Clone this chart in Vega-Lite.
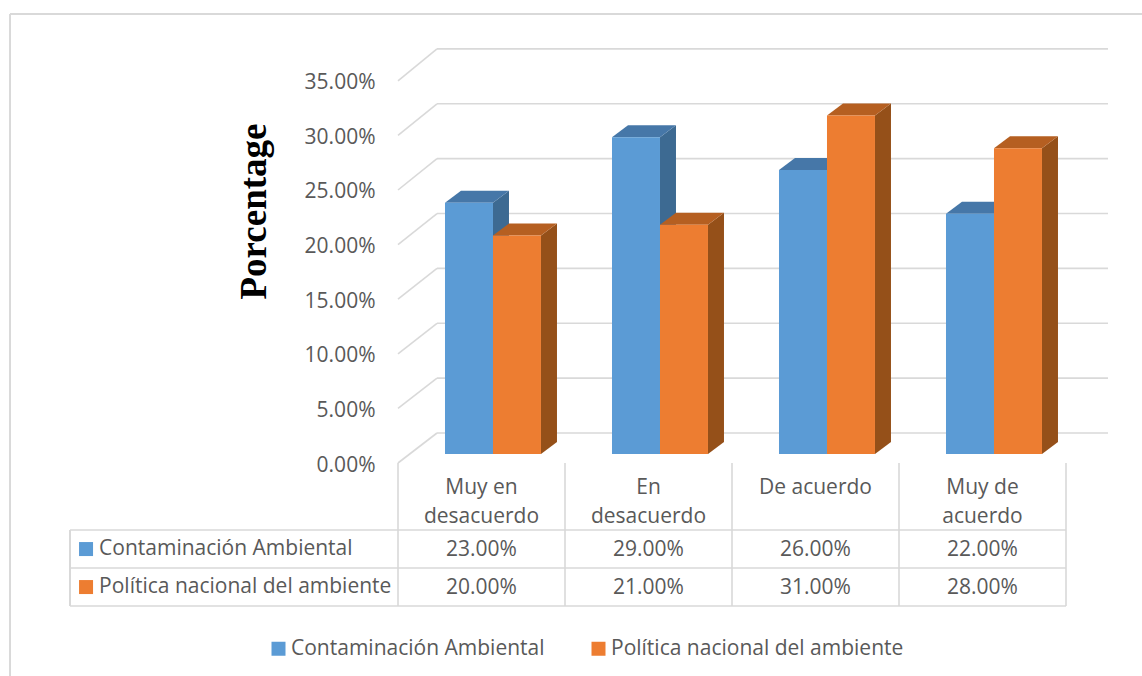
{
"$schema":"https://vega.github.io/schema/vega-lite/v6.json",
"autosize":{"type":"none"},
"padding":{"left":398,"top":49,"right":34,"bottom":213},
"width":710,"height":414,"background":"white",
"config":{"view":{"stroke":null},"font":"Open Sans"},
"datasets":{"ticks":[{"v":0},{"v":0.05},{"v":0.1},{"v":0.15},{"v":0.2},{"v":0.25},{"v":0.3},{"v":0.35}],
"cols":[{"i":0},{"i":1},{"i":2},{"i":3},{"i":4}],
"rows":[{"r":0},{"r":1},{"r":2}]},
"data":{"values":[
{"category":"Muy en\ndesacuerdo","series":"Contaminación Ambiental","value":0.23},
{"category":"En\ndesacuerdo","series":"Contaminación Ambiental","value":0.29},
{"category":"De acuerdo","series":"Contaminación Ambiental","value":0.26},
{"category":"Muy de\nacuerdo","series":"Contaminación Ambiental","value":0.22},
{"category":"Muy en\ndesacuerdo","series":"Política nacional del ambiente","value":0.20},
{"category":"En\ndesacuerdo","series":"Política nacional del ambiente","value":0.21},
{"category":"De acuerdo","series":"Política nacional del ambiente","value":0.31},
{"category":"Muy de\nacuerdo","series":"Política nacional del ambiente","value":0.28}
]},
"transform":[
{"calculate":"indexof(['Muy en\\ndesacuerdo','En\\ndesacuerdo','De acuerdo','Muy de\\nacuerdo'],datum.category)","as":"idx"},
{"calculate":"datum.series==='Contaminación Ambiental'?0:1","as":"si"},
{"calculate":"datum.idx+0.2814+datum.si*0.2874","as":"a"},
{"calculate":"datum.a+0.2874","as":"b"},
{"calculate":"datum.value+0.00824","as":"t"}
],
"layer":[
{"data":{"name":"ticks"},"transform":[{"calculate":"datum.v*1.005+0.02747","as":"back"}],
 "mark":{"type":"rule","color":"#D9D9D9","strokeWidth":1.6},
 "encoding":{
  "x":{"datum":0.2335,"type":"quantitative","scale":{"domain":[0,4.2515],"nice":false,"zero":false},"axis":null},
  "x2":{"datum":4.2515},
  "y":{"field":"back","type":"quantitative","scale":{"domain":[0,0.37912],"nice":false,"zero":false},
   "axis":{"values":[0,0.05,0.1,0.15,0.2,0.25,0.3,0.35],"format":".2%","grid":false,"domain":false,"ticks":false,"labelPadding":23,"labelFontSize":21,"labelOffset":2,"labelColor":"#595959","labelFont":"Open Sans",
   "title":"Porcentage","titleFont":"Liberation Serif","titleFontSize":37,"titleFontWeight":"bold","titleColor":"#000000","titleAngle":-90,"titleX":-133,"titleY":162,"titleAlign":"center","titleBaseline":"alphabetic"}}
 }},
{"data":{"name":"ticks"},"transform":[{"calculate":"datum.v*1.005+0.02747","as":"back"}],
 "mark":{"type":"rule","color":"#D9D9D9","strokeWidth":1.6},
 "encoding":{"x":{"datum":0,"type":"quantitative"},"x2":{"datum":0.2335},
  "y":{"field":"v","type":"quantitative"},"y2":{"field":"back"}}},
{"data":{"name":"cols"},"mark":{"type":"rule","color":"#D9D9D9","strokeWidth":1.6},
 "encoding":{"x":{"field":"i","type":"quantitative"},"y":{"datum":0,"type":"quantitative"},"y2":{"datum":-0.131}}},
{"data":{"name":"rows"},"transform":[{"calculate":"-0.0614-datum.r*0.0348","as":"ry"}],"mark":{"type":"rule","color":"#D9D9D9","strokeWidth":1.6},
 "encoding":{"x":{"datum":-1.964,"type":"quantitative"},"x2":{"datum":4},"y":{"field":"ry","type":"quantitative"}}},
{"mark":{"type":"rule","color":"#D9D9D9","strokeWidth":1.6},
 "encoding":{"x":{"datum":-1.964,"type":"quantitative"},"y":{"datum":-0.0614,"type":"quantitative"},"y2":{"datum":-0.131}}},
{"mark":{"type":"rule","color":"#D9D9D9","strokeWidth":1.6},
 "encoding":{"x":{"datum":-2.323,"type":"quantitative"},"x2":{"datum":4.46},"y":{"datum":0.4112,"type":"quantitative"}}},
{"mark":{"type":"rule","color":"#D9D9D9","strokeWidth":1.6},
 "encoding":{"x":{"datum":-2.323,"type":"quantitative"},"y":{"datum":0.4112,"type":"quantitative"},"y2":{"datum":-0.2}}},
{"transform":[{"calculate":"[0,1]","as":"pt"},{"flatten":["pt"]},
  {"calculate":"datum.b+datum.pt*0.0958","as":"px"},{"calculate":"datum.t+datum.pt*0.011","as":"py"},{"calculate":"0.00824+datum.pt*0.011","as":"py2"}],
 "mark":{"type":"area","opacity":1},
 "encoding":{"x":{"field":"px","type":"quantitative"},"y":{"field":"py","type":"quantitative"},"y2":{"field":"py2"},"detail":{"field":"category"},
  "color":{"field":"series","type":"nominal","scale":{"domain":["Contaminación Ambiental","Política nacional del ambiente"],"range":["#3D6A92","#955019"]},"legend":null}}},
{"transform":[{"calculate":"[0,1,2,3]","as":"pt"},{"flatten":["pt"]},
  {"calculate":"datum.pt==0?datum.a:datum.pt==1?datum.a+0.0958:datum.pt==2?datum.b:datum.b+0.0958","as":"px"},
  {"calculate":"datum.pt==0?datum.t:datum.t+0.011","as":"py"},
  {"calculate":"datum.pt==3?datum.t+0.011:datum.t","as":"py2"}],
 "mark":{"type":"area","opacity":1},
 "encoding":{"x":{"field":"px","type":"quantitative"},"y":{"field":"py","type":"quantitative"},"y2":{"field":"py2"},"detail":{"field":"category"},
  "color":{"field":"series","type":"nominal","scale":{"domain":["Contaminación Ambiental","Política nacional del ambiente"],"range":["#4677A8","#B55F21"]},"legend":null}}},
{"transform":[{"calculate":"0.00824","as":"base"}],"mark":{"type":"rect"},
 "encoding":{"x":{"field":"a","type":"quantitative"},"x2":{"field":"b"},"y":{"field":"t","type":"quantitative"},"y2":{"field":"base"},
  "color":{"field":"series","type":"nominal","scale":{"domain":["Contaminación Ambiental","Política nacional del ambiente"],"range":["#5B9BD5","#ED7D31"]},
  "legend":{"orient":"none","legendX":-130,"legendY":589,"direction":"horizontal","columns":2,"title":null,"symbolType":"square","symbolSize":196,"symbolStrokeWidth":0,"labelFontSize":21,"labelColor":"#595959","labelFont":"Open Sans","labelOffset":2,"columnPadding":43,"labelLimit":400}}}},
{"transform":[{"calculate":"datum.idx+0.5","as":"xc"},{"filter":"datum.si==0"},{"calculate":"-0.0285","as":"ly"}],
 "mark":{"type":"text","fontSize":21,"color":"#595959","lineBreak":"\n","lineHeight":29,"baseline":"alphabetic","align":"center"},
 "encoding":{"x":{"field":"xc","type":"quantitative"},"y":{"field":"ly","type":"quantitative"},"text":{"field":"category"}}},
{"transform":[{"calculate":"datum.idx+0.5","as":"xc"},{"calculate":"-0.0797-datum.si*0.0348","as":"ry"}],
 "mark":{"type":"text","fontSize":21,"color":"#595959","baseline":"middle","align":"center"},
 "encoding":{"x":{"field":"xc","type":"quantitative"},"y":{"field":"ry","type":"quantitative"},"text":{"field":"value","type":"quantitative","format":".2%"}}},
{"transform":[{"filter":"datum.idx==0"},{"calculate":"-0.0788-datum.si*0.0348","as":"ry"}],
 "mark":{"type":"text","fontSize":21,"color":"#595959","baseline":"middle","align":"left"},
 "encoding":{"x":{"datum":-1.79,"type":"quantitative"},"y":{"field":"ry","type":"quantitative"},"text":{"field":"series"}}},
{"transform":[{"filter":"datum.idx==0"},{"calculate":"-0.0788-datum.si*0.0348","as":"ry"}],
 "mark":{"type":"point","shape":"square","filled":true,"size":196,"opacity":1},
 "encoding":{"x":{"datum":-1.868,"type":"quantitative"},"y":{"field":"ry","type":"quantitative"},
 "color":{"field":"series","type":"nominal","scale":{"domain":["Contaminación Ambiental","Política nacional del ambiente"],"range":["#5B9BD5","#ED7D31"]},"legend":null}}}
],
"resolve":{"scale":{"color":"independent"}}
}
